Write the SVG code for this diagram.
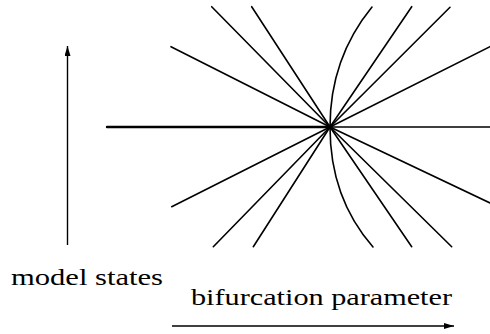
<svg xmlns="http://www.w3.org/2000/svg" width="490" height="334" viewBox="0 0 490 334">
<style>
.ln{stroke:#000;stroke-width:1.6;fill:none;stroke-linecap:round}
.ax{stroke:#000;stroke-width:1.4;fill:none}
.lbl{font-family:"Liberation Serif","Times New Roman",Times,Tinos,"Nimbus Roman","Nimbus Roman No9 L","FreeSerif","Noto Serif","DejaVu Serif",serif;font-size:24px;fill:#000}
</style>
<defs>
<marker id="ah" viewBox="0 0 10 6" refX="10" refY="3" markerWidth="10" markerHeight="6" markerUnits="userSpaceOnUse" orient="auto">
<path d="M0,0 L10,3 L0,6 Z" fill="#000"/>
</marker>
</defs>
<g id="connectors">
<line class="ax" x1="67.5" y1="245" x2="67.5" y2="46" marker-end="url(#ah)"/>
<line class="ax" x1="172" y1="326" x2="454" y2="326" marker-end="url(#ah)"/>
</g>
<g id="branches">
<line class="ln" x1="107" y1="127" x2="330" y2="127" style="stroke-width:2.4"/>
<line class="ln" x1="330" y1="127" x2="490" y2="127"/>
<line class="ln" x1="171" y1="46.7" x2="330" y2="127"/>
<line class="ln" x1="211.7" y1="6.7" x2="330" y2="127"/>
<line class="ln" x1="251.7" y1="6.7" x2="330" y2="127"/>
<line class="ln" x1="411.7" y1="6.7" x2="330" y2="127"/>
<line class="ln" x1="450" y1="7.3" x2="330" y2="127"/>
<line class="ln" x1="490" y1="46.7" x2="330" y2="127"/>
<line class="ln" x1="171.7" y1="206.7" x2="330" y2="127"/>
<line class="ln" x1="213.3" y1="246.7" x2="330" y2="127"/>
<line class="ln" x1="253.3" y1="246.7" x2="330" y2="127"/>
<line class="ln" x1="411.7" y1="246.7" x2="330" y2="127"/>
<line class="ln" x1="451.7" y1="246.7" x2="330" y2="127"/>
<line class="ln" x1="490" y1="203" x2="330" y2="127"/>
<path class="ln" d="M372,7 C345,40 330,80 330,127 C330,175 345,215 373,247"/>
<circle cx="330" cy="127" r="2.5" fill="#000"/>
</g>
<g id="label-states">
<text class="lbl" x="11" y="285" textLength="152" lengthAdjust="spacingAndGlyphs">model states</text>
</g>
<g id="label-param">
<text class="lbl" x="191" y="305" textLength="261" lengthAdjust="spacingAndGlyphs">bifurcation parameter</text>
</g>
</svg>
